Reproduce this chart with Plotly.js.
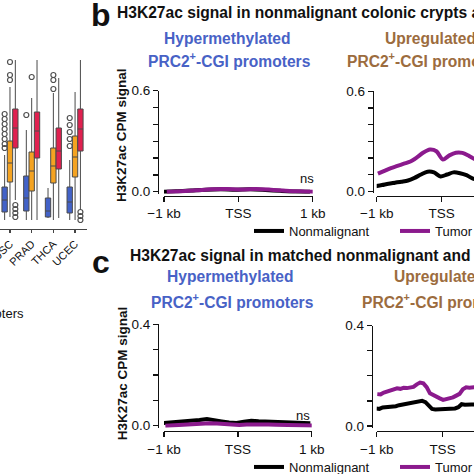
<!DOCTYPE html>
<html><head><meta charset="utf-8">
<script src="https://cdn.plot.ly/plotly-3.0.1.min.js"></script>
<style>html,body{margin:0;padding:0;background:#fff}#chart{width:474px;height:474px}</style>
</head><body><div id="chart"></div>
<script>
const W = 474, H = 474;
const px = v => v / W;
const py = v => 1 - v / H;

// ---------- panel a (cropped box plots) ----------
const boxCategories = ['LUSC', 'PRAD', 'THCA', 'UCEC'];
const blueLowerFence = [0.09, 0.09, 0.11, 0.09];
const blueQ1 = [0.17, 0.18, 0.12, 0.16];
const blueMedian = [0.29, 0.31, 0.18, 0.27];
const blueQ3 = [0.42, 0.53, 0.31, 0.42];
const blueUpperFence = [0.74, 0.99, 0.41, 0.69];
const orangeLowerFence = [0.12, 0.09, 0.09, 0.09];
const orangeQ1 = [0.47, 0.38, 0.46, 0.52];
const orangeMedian = [0.66, 0.58, 0.63, 0.72];
const orangeQ3 = [0.88, 0.77, 0.81, 0.93];
const orangeUpperFence = [1.42, 1.31, 1.36, 1.37];
const redLowerFence = [0.29, 0.09, 0.11, 0.19];
const redQ1 = [0.81, 0.71, 0.60, 0.78];
const redMedian = [1.01, 0.98, 0.78, 1.00];
const redQ3 = [1.20, 1.17, 1.01, 1.20];
const redUpperFence = [1.69, 1.69, 1.51, 1.69];
const blueOutlierX = ['LUSC','LUSC','LUSC','LUSC','LUSC','LUSC','LUSC','LUSC','PRAD','UCEC','UCEC','UCEC','UCEC','UCEC'];
const blueOutlierY = [1.15, 1.10, 1.05, 1.00, 0.95, 0.90, 0.85, 0.81, 1.14, 1.11, 1.04, 0.97, 0.90, 0.83];
const orangeOutlierX = ['LUSC','LUSC','LUSC','PRAD','THCA','THCA','THCA'];
const orangeOutlierY = [1.67, 1.54, 1.49, 1.52, 1.54, 1.49, 1.40];
const redOutlierX = ['LUSC','LUSC','LUSC','LUSC','UCEC','UCEC','UCEC'];
const redOutlierY = [0.24, 0.20, 0.16, 0.12, 0.17, 0.13, 0.09];

// ---------- panels b / c (H3K27ac profiles) ----------
const kbTickVals = [-1, 0, 1];
const kbTickText = ['\u22121 kb', 'TSS', '1 kb'];
const legendNames = ['Nonmalignant', 'Tumor'];

const bPositions = [-1.0,-0.8,-0.6,-0.4,-0.2,0.0,0.2,0.4,0.6,0.8,1.0];
const bHyperNonmalignant = [0.000,0.002,0.007,0.012,0.014,0.012,0.014,0.010,0.005,0.001,0.000];
const bHyperTumor = [0.000,0.003,0.008,0.014,0.016,0.013,0.016,0.012,0.006,0.002,0.000];

const bUpPositions = [-1.0,-0.9,-0.8,-0.7,-0.6,-0.5,-0.4,-0.3,-0.2,-0.1,0.0,0.1,0.2,0.3,0.4,0.5,0.6];
const bUpNonmalignant = [0.030,0.037,0.045,0.051,0.057,0.064,0.080,0.100,0.117,0.113,0.088,0.100,0.113,0.108,0.096,0.075,0.065];
const bUpTumor = [0.105,0.122,0.139,0.152,0.165,0.178,0.203,0.232,0.250,0.240,0.190,0.215,0.231,0.230,0.212,0.190,0.175];

const cPositions = [-1.0,-0.9,-0.8,-0.7,-0.6,-0.5,-0.4,-0.3,-0.2,-0.1,0.0,0.1,0.2,0.3,0.4,0.5,0.6,0.7,0.8,0.9,1.0];
const cHyperNonmalignant = [0.010,0.012,0.015,0.016,0.019,0.022,0.026,0.023,0.017,0.013,0.011,0.016,0.019,0.017,0.016,0.015,0.013,0.011,0.010,0.011,0.010];
const cHyperTumor = [0.000,0.002,0.003,0.004,0.006,0.008,0.010,0.009,0.006,0.004,0.003,0.005,0.006,0.006,0.005,0.004,0.003,0.002,0.002,0.001,0.001];

const cUpPositions = [-1.00,-0.95,-0.90,-0.85,-0.80,-0.75,-0.70,-0.65,-0.60,-0.55,-0.50,-0.45,-0.40,-0.35,-0.30,-0.25,-0.20,-0.15,-0.10,-0.05,0.00,0.05,0.10,0.15,0.20,0.25,0.30,0.35,0.40,0.45,0.50,0.55];
const cUpNonmalignant = [0.070,0.068,0.074,0.075,0.077,0.080,0.079,0.083,0.086,0.085,0.089,0.093,0.094,0.097,0.100,0.095,0.080,0.068,0.066,0.067,0.066,0.067,0.066,0.068,0.070,0.075,0.087,0.085,0.087,0.086,0.086,0.087];
const cUpTumor = [0.127,0.126,0.133,0.137,0.139,0.145,0.150,0.148,0.152,0.151,0.154,0.156,0.166,0.173,0.170,0.155,0.130,0.122,0.117,0.110,0.104,0.106,0.110,0.114,0.121,0.128,0.146,0.154,0.152,0.156,0.155,0.157];

const bTicks = [0, 0.1, 0.2, 0.3, 0.4, 0.5, 0.6];
const bTickText = ['0.0', '', '', '', '', '', '0.6'];
const cTicks = [0, 0.1, 0.2, 0.3, 0.4];
const cTickText = ['0.0', '', '', '', '0.4'];

const BLUE = '#4262c8', ORANGE = '#f4a322', RED = '#e0204f';
const BLACK = '#000000', PURPLE = '#8b1a8d';
const TXT = '#111111';
const FONT = 'Liberation Sans, Arial, Helvetica, sans-serif';

function boxTrace(q1, med, q3, lf, uf, color, group) {
  return {type: 'box', x: boxCategories, q1: q1, median: med, q3: q3,
    lowerfence: lf, upperfence: uf, fillcolor: color, offsetgroup: group,
    line: {color: '#4a4a4a', width: 1}, whiskerwidth: 0, boxpoints: false,
    xaxis: 'x', yaxis: 'y', showlegend: false, hoverinfo: 'skip'};
}
function outlierTrace(x, y, group) {
  return {type: 'scatter', mode: 'markers', x: x, y: y, offsetgroup: group,
    marker: {symbol: 'circle-open', size: 5, color: '#505050', line: {width: 1.2}},
    xaxis: 'x', yaxis: 'y', showlegend: false, hoverinfo: 'skip'};
}
function lineTrace(x, y, color, ax, shape, name, legend) {
  return {type: 'scatter', mode: 'lines', x: x, y: y, name: name,
    line: {color: color, width: 4, shape: shape, smoothing: 0.8},
    xaxis: 'x' + ax, yaxis: 'y' + ax,
    showlegend: !!legend, legend: legend || 'legend', hoverinfo: 'skip'};
}

const traces = [
  boxTrace(blueQ1, blueMedian, blueQ3, blueLowerFence, blueUpperFence, BLUE, 'g1'),
  boxTrace(orangeQ1, orangeMedian, orangeQ3, orangeLowerFence, orangeUpperFence, ORANGE, 'g2'),
  boxTrace(redQ1, redMedian, redQ3, redLowerFence, redUpperFence, RED, 'g3'),
  outlierTrace(blueOutlierX, blueOutlierY, 'g1'),
  outlierTrace(orangeOutlierX, orangeOutlierY, 'g2'),
  outlierTrace(redOutlierX, redOutlierY, 'g3'),
  lineTrace(bPositions, bHyperNonmalignant, BLACK, 2, 'spline', legendNames[0]),
  lineTrace(bPositions, bHyperTumor, PURPLE, 2, 'spline', legendNames[1]),
  lineTrace(bUpPositions, bUpNonmalignant, BLACK, 3, 'spline', legendNames[0], 'legend'),
  lineTrace(bUpPositions, bUpTumor, PURPLE, 3, 'spline', legendNames[1], 'legend2'),
  lineTrace(cPositions, cHyperNonmalignant, BLACK, 4, 'linear', legendNames[0]),
  lineTrace(cPositions, cHyperTumor, PURPLE, 4, 'linear', legendNames[1]),
  lineTrace(cUpPositions, cUpNonmalignant, BLACK, 5, 'linear', legendNames[0], 'legend3'),
  lineTrace(cUpPositions, cUpTumor, PURPLE, 5, 'linear', legendNames[1], 'legend4')
];

function xAx(d0, d1, r1, posY) {
  return {domain: [px(d0), px(d1)], range: [-1, r1], anchor: 'free', position: py(posY),
    tickmode: 'array', tickvals: kbTickVals, ticktext: kbTickText,
    ticks: 'outside', ticklen: 5, tickwidth: 1.3, tickcolor: TXT,
    showline: true, linewidth: 1.3, linecolor: TXT, showgrid: false, zeroline: false,
    tickfont: {size: 13.5, color: TXT}, fixedrange: true};
}
function yAx(top, bottom, r0, r1, posX, vals, text) {
  return {domain: [py(bottom), py(top)], range: [r0, r1], anchor: 'free', position: px(posX),
    tickmode: 'array', tickvals: vals, ticktext: text,
    ticks: 'outside', ticklen: 5, tickwidth: 1.3, tickcolor: TXT,
    showline: true, linewidth: 1.3, linecolor: TXT, showgrid: false, zeroline: false,
    tickfont: {size: 13.5, color: TXT}, fixedrange: true};
}
function legendAt(textX, cy) {
  return {x: px(textX - 40), y: py(cy), xanchor: 'left', yanchor: 'middle',
    orientation: 'h', bgcolor: 'rgba(0,0,0,0)', borderwidth: 0,
    font: {size: 13, color: TXT, family: FONT}, itemwidth: 30};
}
function note(text, x, y, size, opts) {
  return Object.assign({text: text, x: px(x), y: py(y), xref: 'paper', yref: 'paper',
    showarrow: false, xanchor: 'center', yanchor: 'middle',
    font: {size: size, color: TXT, family: FONT}}, opts || {});
}

const HYPER_BLUE = '#4862c6', UP_BROWN = '#9c6c3e';
const annotations = [
  note('<b>b</b>', 89, 15, 32, {xanchor: 'left'}),
  note('<b>H3K27ac signal in nonmalignant colonic crypts and tumors</b>', 115, 12, 15.6, {xanchor: 'left'}),
  note('<b>Hypermethylated</b>', 227.5, 38.3, 15.6, {font: {size: 15.6, color: HYPER_BLUE, family: FONT}}),
  note('<b>PRC2<sup>+</sup>-CGI promoters</b>', 229.5, 60.5, 15.6, {font: {size: 15.6, color: HYPER_BLUE, family: FONT}}),
  note('<b>Upregulated</b>', 383.3, 38.3, 15.6, {xanchor: 'left', font: {size: 15.6, color: UP_BROWN, family: FONT}}),
  note('<b>PRC2<sup>+</sup>-CGI promoters</b>', 345, 60.5, 15.6, {xanchor: 'left', font: {size: 15.6, color: UP_BROWN, family: FONT}}),
  note('<b>H3K27ac CPM signal</b>', 122, 135, 13.5, {textangle: -90}),
  note('ns', 307, 179, 13),
  note('<b>c</b>', 90, 262, 32, {xanchor: 'left'}),
  note('<b>H3K27ac signal in matched nonmalignant and tumor tissues</b>', 128.3, 255, 15.6, {xanchor: 'left'}),
  note('<b>Hypermethylated</b>', 230, 276, 15.6, {font: {size: 15.6, color: HYPER_BLUE, family: FONT}}),
  note('<b>PRC2<sup>+</sup>-CGI promoters</b>', 232, 300.5, 15.6, {font: {size: 15.6, color: HYPER_BLUE, family: FONT}}),
  note('<b>Upregulated</b>', 391.7, 276, 15.6, {xanchor: 'left', font: {size: 15.6, color: UP_BROWN, family: FONT}}),
  note('<b>PRC2<sup>+</sup>-CGI promoters</b>', 360, 300.5, 15.6, {xanchor: 'left', font: {size: 15.6, color: UP_BROWN, family: FONT}}),
  note('<b>H3K27ac CPM signal</b>', 122, 373.3, 13.5, {textangle: -90}),
  note('ns', 302.5, 415, 13),
  note('promoters', 26, 313, 13, {xanchor: 'right'})
];

const layout = {
  width: W, height: H,
  margin: {l: 0, r: 0, t: 0, b: 0, autoexpand: false},
  paper_bgcolor: '#ffffff', plot_bgcolor: 'rgba(0,0,0,0)',
  font: {family: FONT, color: TXT},
  boxmode: 'group', boxgap: 0.26, boxgroupgap: 0,
  scattermode: 'group', scattergap: 0.26,
  xaxis: {domain: [0, px(87)], type: 'category', range: [-0.46, 3.55], anchor: 'y',
    tickangle: -45, ticks: 'outside', ticklen: 3, tickwidth: 1.2, tickcolor: '#444',
    showline: true, linewidth: 1.2, linecolor: '#444', showgrid: false, zeroline: false,
    tickfont: {size: 11, color: TXT}, fixedrange: true},
  yaxis: {domain: [py(229), 1], range: [0, 2.29], visible: false, fixedrange: true},
  xaxis2: xAx(164, 312.7, 1, 195.5),
  yaxis2: yAx(90.7, 193.7, -0.012, 0.6, 158, bTicks, bTickText),
  xaxis3: xAx(376.7, 474, (474 - 441.7) / 65, 195.5),
  yaxis3: yAx(91.2, 193.2, -0.012, 0.6, 372.7, bTicks, bTickText),
  xaxis4: xAx(164, 311.7, 1, 431),
  yaxis4: yAx(324.3, 427.7, -0.008, 0.4, 158, cTicks, cTickText),
  xaxis5: xAx(376.7, 474, (474 - 442.5) / 65.8, 431),
  yaxis5: yAx(325.6, 428, -0.008, 0.4, 371.7, cTicks, cTickText),
  legend: legendAt(289, 231),
  legend2: legendAt(435, 231),
  legend3: legendAt(289, 467),
  legend4: legendAt(435, 467),
  annotations: annotations,
  showlegend: true
};

Plotly.newPlot('chart', traces, layout, {displayModeBar: false, staticPlot: true});
</script>
</body></html>
